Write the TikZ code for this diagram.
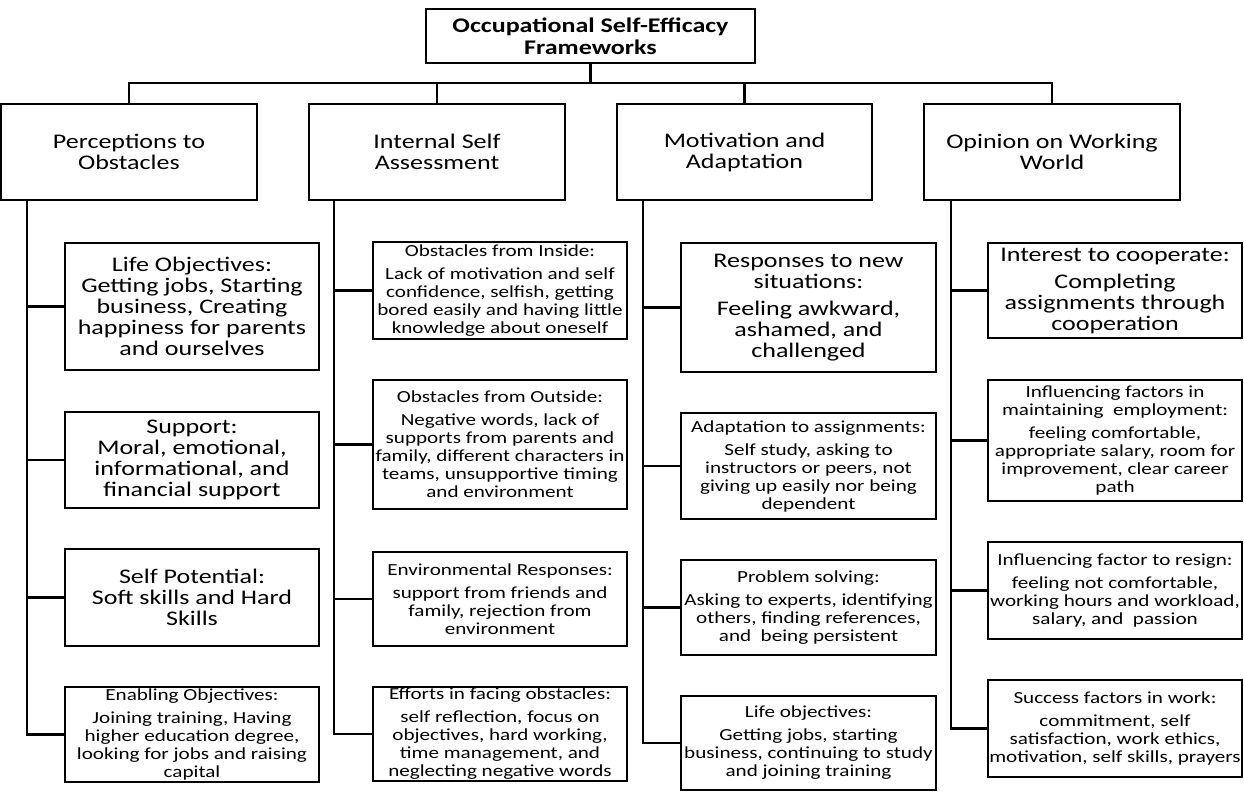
\documentclass[tikz,border=0pt]{standalone}
\usepackage{fontspec}
\setmainfont{Carlito}[FakeStretch=1.25]
\newcommand\bigf{\fontsize{20.8}{21}\selectfont}
\newcommand\smallf{\fontsize{16.9}{18}\selectfont}
\newcommand\titlef{\fontsize{20.8}{22}\selectfont\bfseries}
\newcommand\mybox[7]{%
  \pgfmathsetmacro\bw{#4-#2}\pgfmathsetmacro\bh{#5-#3}%
  \pgfmathsetmacro\cx{(#2+#4)/2}\pgfmathsetmacro\cy{(#3+#5)/2}%
  \node[bx,#6,minimum width=\bw pt,minimum height=\bh pt] (#1) at (\cx,\cy) {#7};}
\tikzset{
  bx/.style={draw, line width=2.2pt, inner sep=0pt, align=center},
  ln/.style={line width=2.2pt},
  bigt/.style={font=\bigf},
  smallt/.style={font=\smallf},
  titlet/.style={font=\titlef}
}
\begin{document}
\begin{tikzpicture}[x=1pt,y=-1pt]
\useasboundingbox (0,0) rectangle (1244,792);
% title
\mybox{top}{426}{9}{755}{63}{titlet}{Occupational Self-Efficacy\\Frameworks}
% level 1
\mybox{p1}{1}{104}{257}{200}{bigt}{Perceptions to\\Obstacles}
\mybox{p2}{309}{104}{565}{200}{bigt}{Internal Self\\Assessment}
\mybox{p3}{617}{104}{872}{200}{bigt}{Motivation and\\Adaptation}
\mybox{p4}{924}{104}{1180}{200}{bigt}{Opinion on Working\\World}
% column 1
\mybox{c11}{65}{243}{319}{370}{bigt}{Life Objectives:\\Getting jobs, Starting\\business, Creating\\happiness for parents\\and ourselves}
\mybox{c12}{65}{412}{319}{508}{bigt}{Support:\\Moral, emotional,\\informational, and\\financial support}
\mybox{c13}{65}{549}{319}{646}{bigt}{Self Potential:\\Soft skills and Hard\\Skills}
\mybox{c14}{65}{687}{319}{782}{smallt}{Enabling Objectives:\\[5pt]Joining training, Having\\higher education degree,\\looking for jobs and raising\\capital}
% column 2
\mybox{c21}{373}{242}{627}{339}{smallt}{Obstacles from Inside:\\[5pt]Lack of motivation and self\\confidence, selfish, getting\\bored easily and having little\\knowledge about oneself}
\mybox{c22}{373}{380}{627}{509}{smallt}{Obstacles from Outside:\\[5pt]Negative words, lack of\\supports from parents and\\family, different characters in\\teams, unsupportive timing\\and environment}
\mybox{c23}{373}{552}{627}{646}{smallt}{Environmental Responses:\\[5pt]support from friends and\\family, rejection from\\environment}
\mybox{c24}{373}{687}{627}{781}{smallt}{Efforts in facing obstacles:\\[5pt]self reflection, focus on\\objectives, hard working,\\time management, and\\neglecting negative words}
% column 3
\mybox{c31}{681}{243}{936}{372}{bigt}{Responses to new\\situations:\\[6pt]Feeling awkward,\\ashamed, and\\challenged}
\mybox{c32}{681}{413}{936}{519}{smallt}{Adaptation to assignments:\\[5pt]Self study, asking to\\instructors or peers, not\\giving up easily nor being\\dependent}
\mybox{c33}{681}{560}{936}{655}{smallt}{Problem solving:\\[5pt]Asking to experts, identifying\\others, finding references,\\and\ \ being persistent}
\mybox{c34}{681}{696}{936}{790}{smallt}{Life objectives:\\[5pt]Getting jobs, starting\\business, continuing to study\\and joining training}
% column 4
\mybox{c41}{988}{243}{1242}{338}{bigt}{Interest to cooperate:\\[6pt]Completing\\assignments through\\cooperation}
\mybox{c42}{988}{380}{1242}{501}{smallt}{Influencing factors in\\maintaining\ \ employment:\\[5pt]feeling comfortable,\\appropriate salary, room for\\improvement, clear career\\path}
\mybox{c43}{988}{542}{1242}{639}{smallt}{Influencing factor to resign:\\[5pt]feeling not comfortable,\\working hours and workload,\\salary, and\ \ passion}
\mybox{c44}{988}{680}{1242}{777}{smallt}{Success factors in work:\\[5pt]commitment, self\\satisfaction, work ethics,\\motivation, self skills, prayers}
% bus
\coordinate (bus) at (591,83);
\draw[ln] (top.south) -- (top.south |- bus);
\draw[ln] (p1.north) |- (p4.north |- bus) -- (p4.north);
\draw[ln] (p2.north) -- (p2.north |- bus);
\draw[ln] (p3.north) -- (p3.north |- bus);
% trunks
\coordinate (t1) at (27,200);
\coordinate (t2) at (334,200);
\coordinate (t3) at (643,200);
\coordinate (t4) at (951,200);
\draw[ln] (t1) |- (c14.west);
\foreach \c in {c11,c12,c13} \draw[ln] (t1 |- \c.west) -- (\c.west);
\draw[ln] (t2) |- (c24.west);
\foreach \c in {c21,c22,c23} \draw[ln] (t2 |- \c.west) -- (\c.west);
\draw[ln] (t3) |- (c34.west);
\foreach \c in {c31,c32,c33} \draw[ln] (t3 |- \c.west) -- (\c.west);
\draw[ln] (t4) |- (c44.west);
\foreach \c in {c41,c42,c43} \draw[ln] (t4 |- \c.west) -- (\c.west);
\end{tikzpicture}
\end{document}
